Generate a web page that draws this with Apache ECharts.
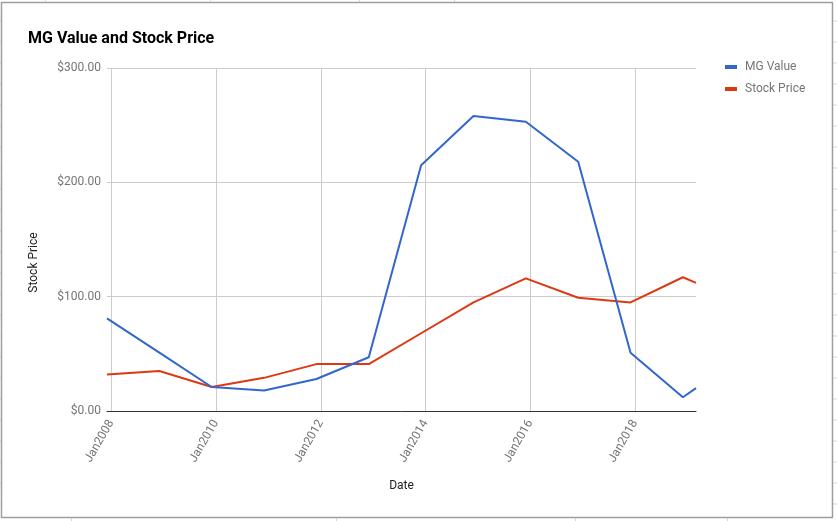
<!DOCTYPE html>
<html>
<head>
<meta charset="utf-8">
<script src="https://cdn.jsdelivr.net/npm/echarts@6/dist/echarts.min.js"></script>
<style>
html,body{margin:0;padding:0;background:#fff;}
#chart{width:837px;height:521px;}
</style>
</head>
<body>
<div id="chart"></div>
<script>
// ---- data ----
const dates = ['Dec2007','Dec2008','Dec2009','Dec2010','Dec2011','Dec2012','Dec2013','Dec2014','Dec2015','Dec2016','Dec2017','Dec2018','Mar2019'];
const mgValue = [81, 51, 21, 18, 28, 47, 215, 258, 253, 218, 51, 12, 20];
const stockPrice = [32, 35, 21, 29, 41, 41, 68, 95, 116, 99, 95, 117, 112];
const yTicks = [0, 100, 200, 300];
const titleText = 'MG Value and Stock Price';
const seriesNames = ['MG Value', 'Stock Price'];

// monthly category scale Dec2007 .. Mar2019
const monthNames = ['Jan','Feb','Mar','Apr','May','Jun','Jul','Aug','Sep','Oct','Nov','Dec'];
const months = [];
for (let y = 2007; y <= 2019; y++) {
  for (let m = 0; m < 12; m++) {
    const c = monthNames[m] + y;
    if (y === 2007 && m < 11) continue;
    months.push(c);
    if (y === 2019 && m === 2) break;
  }
}
const isMajor = (idx, val) => val.slice(0,3) === 'Jan' && (+val.slice(3)) % 2 === 0;

const pairs = (vals) => dates.map((d, i) => [d, vals[i]]);

// faint spreadsheet cell lines outside the chart frame
const deco = [];
for (let y = 21; y < 521; y += 21) {
  deco.push({type:'line', shape:{x1:833, y1:y, x2:837, y2:y}, style:{stroke:'#dadada', lineWidth:1}, silent:true});
  deco.push({type:'line', shape:{x1:0, y1:y, x2:1, y2:y}, style:{stroke:'#dadada', lineWidth:1}, silent:true});
}
[71.5, 336.5, 575.5, 727.5].forEach(x => deco.push({type:'line', shape:{x1:x, y1:518, x2:x, y2:521}, style:{stroke:'#dadada', lineWidth:1}, silent:true}));
[45.5, 210.5, 359.5, 454.5].forEach(x => deco.push({type:'line', shape:{x1:x, y1:0, x2:x, y2:2}, style:{stroke:'#dadada', lineWidth:1}, silent:true}));
deco.push({type:'rect', shape:{x:1.5, y:2.5, width:831, height:515}, style:{fill:null, stroke:'#9e9e9e', lineWidth:1.5}, silent:true});

const chart = echarts.init(document.getElementById('chart'), null, {renderer:'canvas'});
chart.setOption({
  animation: false,
  backgroundColor: '#fff',
  textStyle: {fontFamily: 'Roboto'},
  graphic: deco,
  title: {
    text: titleText,
    left: 28, top: 31, padding: 0,
    textStyle: {fontFamily:'Roboto', fontSize: 16, fontWeight: 'bold', color: '#000', lineHeight: 16}
  },
  legend: {
    orient: 'vertical',
    left: 725, top: 60,
    padding: 0,
    itemGap: 8,
    itemWidth: 12, itemHeight: 4,
    icon: 'rect',
    textStyle: {fontFamily:'Roboto', fontSize: 12, color: '#757575', lineHeight: 14, padding:[0,0,0,3]},
    data: seriesNames
  },
  grid: {left: 107, right: 141, top: 68, bottom: 110, containLabel: false},
  xAxis: {
    type: 'category',
    data: months,
    boundaryGap: false,
    name: 'Date',
    nameLocation: 'middle',
    nameGap: 69,
    nameTextStyle: {fontFamily:'Roboto', fontSize: 12, color: '#222'},
    axisLine: {show: true, lineStyle: {color: '#333', width: 1}},
    axisTick: {show: false},
    axisLabel: {
      interval: isMajor,
      rotate: 60,
      margin: 10,
      fontFamily: 'Roboto', fontSize: 12, color: '#757575'
    },
    splitLine: {show: true, interval: isMajor, lineStyle: {color: '#cccccc', width: 1}}
  },
  yAxis: {
    type: 'value',
    min: yTicks[0], max: yTicks[yTicks.length-1], interval: 100,
    name: 'Stock Price',
    nameLocation: 'middle',
    nameGap: 67,
    nameTextStyle: {fontFamily:'Roboto', fontSize: 12, color: '#222', padding: [0, 46, 0, 0]},
    axisLine: {show: false},
    axisTick: {show: false},
    axisLabel: {margin: 6, fontFamily:'Roboto', fontSize: 12, color: '#757575', formatter: v => '$' + v.toFixed(2)},
    splitLine: {show: true, lineStyle: {color: '#cccccc', width: 1}}
  },
  series: [
    {name: seriesNames[0], type: 'line', data: pairs(mgValue), showSymbol: false, symbol: 'none',
     lineStyle: {color: '#3366cc', width: 2}, itemStyle: {color: '#3366cc'}, z: 3},
    {name: seriesNames[1], type: 'line', data: pairs(stockPrice), showSymbol: false, symbol: 'none',
     lineStyle: {color: '#dc3912', width: 2}, itemStyle: {color: '#dc3912'}, z: 2}
  ]
});
</script>
</body>
</html>
